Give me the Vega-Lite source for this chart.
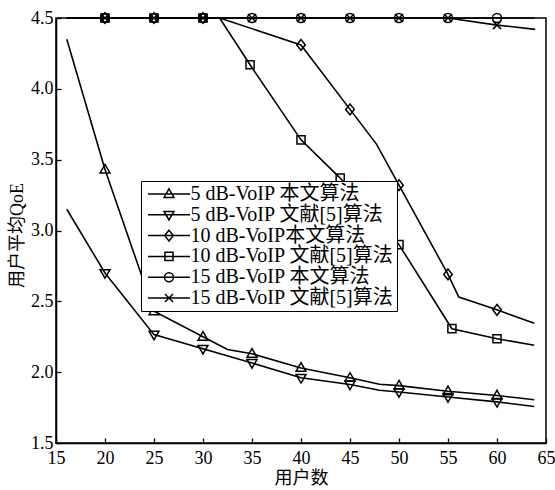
{
  "$schema": "https://vega.github.io/schema/vega-lite/v6.json",
  "width": 490,
  "height": 425,
  "autosize": {"type": "none"},
  "padding": {"left": 56, "top": 18, "right": 9, "bottom": 47},
  "background": "white",
  "config": {
    "view": {"stroke": "black", "strokeWidth": 1.5},
    "axis": {
      "domainColor": "black", "domainWidth": 1.5,
      "tickColor": "black", "tickWidth": 1.3, "tickSize": -5,
      "labelFont": "Liberation Serif", "labelFontSize": 18, "labelColor": "black",
      "labelFlush": false, "labelOverlap": false,
      "grid": false,
      "titleFont": "Liberation Serif, Noto Sans CJK SC", "titleFontSize": 18,
      "titleFontWeight": "normal", "titleColor": "black"
    }
  },
  "datasets": {
    "lines": [
      {"series": "5 dB-VoIP 本文算法", "users": 16.1, "qoe": 4.35},
      {"series": "5 dB-VoIP 本文算法", "users": 20, "qoe": 3.43},
      {"series": "5 dB-VoIP 本文算法", "users": 25, "qoe": 2.43},
      {"series": "5 dB-VoIP 本文算法", "users": 30, "qoe": 2.25},
      {"series": "5 dB-VoIP 本文算法", "users": 32.5, "qoe": 2.16},
      {"series": "5 dB-VoIP 本文算法", "users": 35, "qoe": 2.13},
      {"series": "5 dB-VoIP 本文算法", "users": 40, "qoe": 2.03},
      {"series": "5 dB-VoIP 本文算法", "users": 45, "qoe": 1.96},
      {"series": "5 dB-VoIP 本文算法", "users": 48, "qoe": 1.915},
      {"series": "5 dB-VoIP 本文算法", "users": 50, "qoe": 1.905},
      {"series": "5 dB-VoIP 本文算法", "users": 55, "qoe": 1.865},
      {"series": "5 dB-VoIP 本文算法", "users": 60, "qoe": 1.835},
      {"series": "5 dB-VoIP 本文算法", "users": 63.8, "qoe": 1.805},
      {"series": "5 dB-VoIP 文献[5]算法", "users": 16.1, "qoe": 3.15},
      {"series": "5 dB-VoIP 文献[5]算法", "users": 20, "qoe": 2.70},
      {"series": "5 dB-VoIP 文献[5]算法", "users": 25, "qoe": 2.265},
      {"series": "5 dB-VoIP 文献[5]算法", "users": 30, "qoe": 2.165},
      {"series": "5 dB-VoIP 文献[5]算法", "users": 35, "qoe": 2.065},
      {"series": "5 dB-VoIP 文献[5]算法", "users": 40, "qoe": 1.96},
      {"series": "5 dB-VoIP 文献[5]算法", "users": 45, "qoe": 1.913},
      {"series": "5 dB-VoIP 文献[5]算法", "users": 48, "qoe": 1.872},
      {"series": "5 dB-VoIP 文献[5]算法", "users": 50, "qoe": 1.86},
      {"series": "5 dB-VoIP 文献[5]算法", "users": 55, "qoe": 1.825},
      {"series": "5 dB-VoIP 文献[5]算法", "users": 60, "qoe": 1.79},
      {"series": "5 dB-VoIP 文献[5]算法", "users": 63.8, "qoe": 1.758},
      {"series": "10 dB-VoIP本文算法", "users": 16.1, "qoe": 4.5},
      {"series": "10 dB-VoIP本文算法", "users": 31.7, "qoe": 4.5},
      {"series": "10 dB-VoIP本文算法", "users": 40, "qoe": 4.31},
      {"series": "10 dB-VoIP本文算法", "users": 45, "qoe": 3.855},
      {"series": "10 dB-VoIP本文算法", "users": 47.7, "qoe": 3.61},
      {"series": "10 dB-VoIP本文算法", "users": 50, "qoe": 3.32},
      {"series": "10 dB-VoIP本文算法", "users": 55, "qoe": 2.69},
      {"series": "10 dB-VoIP本文算法", "users": 56.1, "qoe": 2.53},
      {"series": "10 dB-VoIP本文算法", "users": 60, "qoe": 2.44},
      {"series": "10 dB-VoIP本文算法", "users": 63.8, "qoe": 2.345},
      {"series": "10 dB-VoIP 文献[5]算法", "users": 16.1, "qoe": 4.5},
      {"series": "10 dB-VoIP 文献[5]算法", "users": 31.7, "qoe": 4.5},
      {"series": "10 dB-VoIP 文献[5]算法", "users": 34.8, "qoe": 4.17},
      {"series": "10 dB-VoIP 文献[5]算法", "users": 40, "qoe": 3.64},
      {"series": "10 dB-VoIP 文献[5]算法", "users": 44, "qoe": 3.37},
      {"series": "10 dB-VoIP 文献[5]算法", "users": 50, "qoe": 2.9},
      {"series": "10 dB-VoIP 文献[5]算法", "users": 55.4, "qoe": 2.307},
      {"series": "10 dB-VoIP 文献[5]算法", "users": 60, "qoe": 2.236},
      {"series": "10 dB-VoIP 文献[5]算法", "users": 63.8, "qoe": 2.19},
      {"series": "15 dB-VoIP 本文算法", "users": 16.1, "qoe": 4.5},
      {"series": "15 dB-VoIP 本文算法", "users": 63.8, "qoe": 4.5},
      {"series": "15 dB-VoIP 文献[5]算法", "users": 16.1, "qoe": 4.5},
      {"series": "15 dB-VoIP 文献[5]算法", "users": 55, "qoe": 4.5},
      {"series": "15 dB-VoIP 文献[5]算法", "users": 60, "qoe": 4.45},
      {"series": "15 dB-VoIP 文献[5]算法", "users": 63.9, "qoe": 4.42}
    ],
    "markers": [
      {"series": "5 dB-VoIP 本文算法", "users": 20, "qoe": 3.43},
      {"series": "5 dB-VoIP 本文算法", "users": 25, "qoe": 2.43},
      {"series": "5 dB-VoIP 本文算法", "users": 30, "qoe": 2.25},
      {"series": "5 dB-VoIP 本文算法", "users": 35, "qoe": 2.13},
      {"series": "5 dB-VoIP 本文算法", "users": 40, "qoe": 2.03},
      {"series": "5 dB-VoIP 本文算法", "users": 45, "qoe": 1.96},
      {"series": "5 dB-VoIP 本文算法", "users": 50, "qoe": 1.905},
      {"series": "5 dB-VoIP 本文算法", "users": 55, "qoe": 1.865},
      {"series": "5 dB-VoIP 本文算法", "users": 60, "qoe": 1.835},
      {"series": "5 dB-VoIP 文献[5]算法", "users": 20, "qoe": 2.70},
      {"series": "5 dB-VoIP 文献[5]算法", "users": 25, "qoe": 2.265},
      {"series": "5 dB-VoIP 文献[5]算法", "users": 30, "qoe": 2.165},
      {"series": "5 dB-VoIP 文献[5]算法", "users": 35, "qoe": 2.065},
      {"series": "5 dB-VoIP 文献[5]算法", "users": 40, "qoe": 1.96},
      {"series": "5 dB-VoIP 文献[5]算法", "users": 45, "qoe": 1.913},
      {"series": "5 dB-VoIP 文献[5]算法", "users": 50, "qoe": 1.86},
      {"series": "5 dB-VoIP 文献[5]算法", "users": 55, "qoe": 1.825},
      {"series": "5 dB-VoIP 文献[5]算法", "users": 60, "qoe": 1.79},
      {"series": "10 dB-VoIP本文算法", "users": 20, "qoe": 4.5},
      {"series": "10 dB-VoIP本文算法", "users": 25, "qoe": 4.5},
      {"series": "10 dB-VoIP本文算法", "users": 30, "qoe": 4.5},
      {"series": "10 dB-VoIP本文算法", "users": 40, "qoe": 4.31},
      {"series": "10 dB-VoIP本文算法", "users": 45, "qoe": 3.855},
      {"series": "10 dB-VoIP本文算法", "users": 50, "qoe": 3.32},
      {"series": "10 dB-VoIP本文算法", "users": 55, "qoe": 2.69},
      {"series": "10 dB-VoIP本文算法", "users": 60, "qoe": 2.44},
      {"series": "10 dB-VoIP 文献[5]算法", "users": 20, "qoe": 4.5},
      {"series": "10 dB-VoIP 文献[5]算法", "users": 25, "qoe": 4.5},
      {"series": "10 dB-VoIP 文献[5]算法", "users": 30, "qoe": 4.5},
      {"series": "10 dB-VoIP 文献[5]算法", "users": 34.8, "qoe": 4.17},
      {"series": "10 dB-VoIP 文献[5]算法", "users": 40, "qoe": 3.64},
      {"series": "10 dB-VoIP 文献[5]算法", "users": 44, "qoe": 3.37},
      {"series": "10 dB-VoIP 文献[5]算法", "users": 50, "qoe": 2.9},
      {"series": "10 dB-VoIP 文献[5]算法", "users": 55.4, "qoe": 2.307},
      {"series": "10 dB-VoIP 文献[5]算法", "users": 60, "qoe": 2.236},
      {"series": "15 dB-VoIP 本文算法", "users": 20, "qoe": 4.5},
      {"series": "15 dB-VoIP 本文算法", "users": 25, "qoe": 4.5},
      {"series": "15 dB-VoIP 本文算法", "users": 30, "qoe": 4.5},
      {"series": "15 dB-VoIP 本文算法", "users": 35, "qoe": 4.5},
      {"series": "15 dB-VoIP 本文算法", "users": 40, "qoe": 4.5},
      {"series": "15 dB-VoIP 本文算法", "users": 45, "qoe": 4.5},
      {"series": "15 dB-VoIP 本文算法", "users": 50, "qoe": 4.5},
      {"series": "15 dB-VoIP 本文算法", "users": 55, "qoe": 4.5},
      {"series": "15 dB-VoIP 本文算法", "users": 60, "qoe": 4.5},
      {"series": "15 dB-VoIP 文献[5]算法", "users": 20, "qoe": 4.5},
      {"series": "15 dB-VoIP 文献[5]算法", "users": 25, "qoe": 4.5},
      {"series": "15 dB-VoIP 文献[5]算法", "users": 30, "qoe": 4.5},
      {"series": "15 dB-VoIP 文献[5]算法", "users": 35, "qoe": 4.5},
      {"series": "15 dB-VoIP 文献[5]算法", "users": 40, "qoe": 4.5},
      {"series": "15 dB-VoIP 文献[5]算法", "users": 45, "qoe": 4.5},
      {"series": "15 dB-VoIP 文献[5]算法", "users": 50, "qoe": 4.5},
      {"series": "15 dB-VoIP 文献[5]算法", "users": 55, "qoe": 4.5},
      {"series": "15 dB-VoIP 文献[5]算法", "users": 60, "qoe": 4.45}
    ]
  },
  "encoding": {
    "x": {
      "field": "users", "type": "quantitative",
      "scale": {"domain": [15, 65], "nice": false, "zero": false},
      "axis": {
        "values": [15, 20, 25, 30, 35, 40, 45, 50, 55, 60, 65],
        "title": "用户数", "labelPadding": 11,
        "titleY": 35, "titleBaseline": "middle"
      }
    },
    "y": {
      "field": "qoe", "type": "quantitative",
      "scale": {"domain": [1.5, 4.5], "nice": false, "zero": false},
      "axis": {
        "values": [1.5, 2, 2.5, 3, 3.5, 4, 4.5],
        "format": ".1f",
        "title": "用户平均QoE", "labelPadding": 8,
        "titleX": -39, "titleY": 217, "titleBaseline": "middle", "titleAngle": -90
      }
    }
  },
  "resolve": {"scale": {"shape": "independent"}, "legend": {"shape": "independent"}},
  "layer": [
    {
      "data": {"name": "lines"},
      "mark": {"type": "line", "color": "black", "strokeWidth": 1.6, "clip": false},
      "encoding": {"detail": {"field": "series", "type": "nominal"}}
    },
    {
      "data": {"name": "markers"},
      "mark": {"type": "point", "filled": false, "stroke": "black", "strokeWidth": 1.5, "size": 81, "opacity": 1},
      "encoding": {
        "shape": {
          "field": "series", "type": "nominal",
          "scale": {
            "domain": ["5 dB-VoIP 本文算法", "5 dB-VoIP 文献[5]算法", "10 dB-VoIP本文算法", "10 dB-VoIP 文献[5]算法", "15 dB-VoIP 本文算法", "15 dB-VoIP 文献[5]算法"],
            "range": [
              "M0,-1.15L1.1,0.75L-1.1,0.75Z",
              "M0,1.15L1.1,-0.75L-1.1,-0.75Z",
              "M0,-1.2L0.95,0L0,1.2L-0.95,0Z",
              "M-0.9,-0.9H0.9V0.9H-0.9Z",
              "M1,0A1,1,0,1,1,-1,0A1,1,0,1,1,1,0Z",
              "M-0.9,-0.9L0.9,0.9M-0.9,0.9L0.9,-0.9"
            ]
          },
          "legend": null
        }
      }
    },
    {
      "data": {"name": "markers"},
      "mark": {"type": "point", "filled": false, "stroke": "black", "strokeWidth": 1.5, "size": 81, "opacity": 0},
      "encoding": {
        "shape": {
          "field": "series", "type": "nominal",
          "scale": {
            "domain": ["5 dB-VoIP 本文算法", "5 dB-VoIP 文献[5]算法", "10 dB-VoIP本文算法", "10 dB-VoIP 文献[5]算法", "15 dB-VoIP 本文算法", "15 dB-VoIP 文献[5]算法"],
            "range": [
              "M-1.33,0H8M3.33,-1.15L4.43,0.75L2.23,0.75Z",
              "M-1.33,0H8M3.33,1.15L4.43,-0.75L2.23,-0.75Z",
              "M-1.33,0H8M3.33,-1.2L4.28,0L3.33,1.2L2.38,0Z",
              "M-1.33,0H8M2.43,-0.9H4.23V0.9H2.43Z",
              "M-1.33,0H8M4.33,0A1,1,0,1,1,2.33,0A1,1,0,1,1,4.33,0Z",
              "M-1.33,0H8M2.43,-0.9L4.23,0.9M2.43,0.9L4.23,-0.9"
            ]
          },
          "legend": {
            "orient": "none", "legendX": 85, "legendY": 163,
            "title": null, "padding": 3, "rowPadding": 0.8,
            "labelFont": "Liberation Serif, Noto Sans CJK SC", "labelFontSize": 20,
            "labelColor": "black", "labelLimit": 500, "labelOffset": 26.5,
            "symbolSize": 81, "symbolStrokeWidth": 1.5, "symbolStrokeColor": "black",
            "symbolFillColor": "transparent", "symbolOpacity": 1,
            "strokeColor": "black", "fillColor": "white"
          }
        }
      }
    }
  ]
}
